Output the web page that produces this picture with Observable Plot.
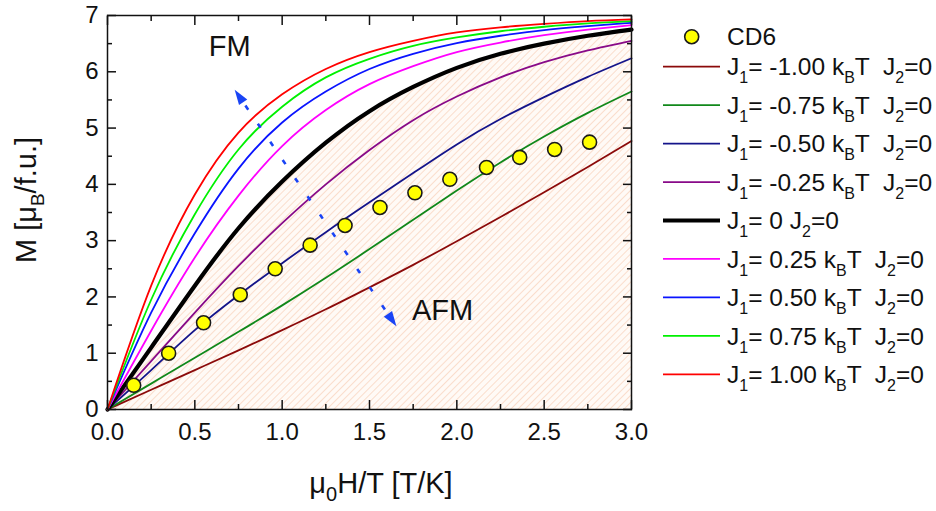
<!DOCTYPE html>
<html><head><meta charset="utf-8">
<script src="https://cdn.jsdelivr.net/npm/d3@7"></script>
<script src="https://cdn.jsdelivr.net/npm/@observablehq/plot@0.6"></script>
<style>
html,body{margin:0;padding:0;background:#fff;}
#chart{width:936px;height:511px;overflow:hidden;}
</style></head><body><div id="chart"></div>
<script>
// ---- data ----
const xGrid = [0, 0.25, 0.5, 0.75, 1, 1.25, 1.5, 1.75, 2, 2.25, 2.5, 2.75, 3];
const J1Values = [-1, -0.75, -0.5, -0.25, 0, 0.25, 0.5, 0.75, 1];
const M_Jm100 = [0, 0.35, 0.70, 1.05, 1.41, 1.78, 2.17, 2.57, 2.99, 3.42, 3.86, 4.31, 4.77];
const M_Jm075 = [0, 0.46, 0.92, 1.38, 1.85, 2.34, 2.85, 3.37, 3.89, 4.39, 4.85, 5.27, 5.65];
const M_Jm050 = [0, 0.70, 1.41, 2.03, 2.60, 3.15, 3.68, 4.20, 4.71, 5.16, 5.55, 5.91, 6.24];
const M_Jm025 = [0, 0.86, 1.72, 2.55, 3.31, 4.00, 4.61, 5.14, 5.56, 5.90, 6.17, 6.38, 6.55];
const M_J000  = [0, 1.10, 2.20, 3.22, 4.05, 4.74, 5.30, 5.73, 6.07, 6.32, 6.50, 6.64, 6.75];
const M_Jp025 = [0, 1.40, 2.70, 3.80, 4.68, 5.32, 5.78, 6.10, 6.35, 6.52, 6.65, 6.75, 6.83];
const M_Jp050 = [0, 1.72, 3.13, 4.28, 5.10, 5.65, 6.05, 6.32, 6.51, 6.64, 6.74, 6.81, 6.87];
const M_Jp075 = [0, 1.95, 3.47, 4.62, 5.38, 5.90, 6.23, 6.46, 6.61, 6.72, 6.80, 6.86, 6.90];
const M_Jp100 = [0, 2.20, 3.82, 4.92, 5.60, 6.05, 6.35, 6.55, 6.70, 6.79, 6.85, 6.90, 6.93];
const cd6X = [0.15, 0.35, 0.55, 0.76, 0.96, 1.16, 1.36, 1.56, 1.76, 1.96, 2.17, 2.36, 2.56, 2.76];
const cd6M = [0.43, 1.00, 1.54, 2.04, 2.50, 2.92, 3.27, 3.59, 3.85, 4.09, 4.30, 4.48, 4.62, 4.75];
const xMajorTicks = [0, 0.5, 1, 1.5, 2, 2.5, 3];
const xMinorTicks = [0.25, 0.75, 1.25, 1.75, 2.25, 2.75];
const yMajorTicks = [0, 1, 2, 3, 4, 5, 6, 7];
const yMinorTicks = [0.5, 1.5, 2.5, 3.5, 4.5, 5.5, 6.5];

// ---- styles ----
const seriesValues = [M_Jm100, M_Jm075, M_Jm050, M_Jm025, M_J000, M_Jp025, M_Jp050, M_Jp075, M_Jp100];
const seriesColors = ["#8b0a0a", "#11881a", "#14148a", "#880a88", "#000000", "#ff00ff", "#0a14ff", "#00f000", "#ff0000"];
const seriesWidths = [1.8, 1.8, 1.8, 1.8, 4.2, 1.8, 1.8, 1.8, 1.8];
const font = "'Liberation Sans', Arial, Helvetica, sans-serif";

const series = J1Values.map((j, k) => ({
  j, color: seriesColors[k], width: seriesWidths[k],
  rows: xGrid.map((x, i) => ({x, m: seriesValues[k][i]}))
}));
const cd6Rows = cd6X.map((x, i) => ({x, m: cd6M[i]}));
const blackRows = series[4].rows;

const tickStyle = {stroke: "#111", strokeWidth: 1.5, tickFormat: () => "", label: null};

const chart = Plot.plot({
  width: 936, height: 511,
  marginLeft: 107, marginRight: 305, marginTop: 15, marginBottom: 102,
  style: {fontFamily: font, fontSize: "24px", color: "#111", background: "white", overflow: "visible"},
  x: {domain: [0, 3]},
  y: {domain: [0, 7]},
  marks: [
    Plot.areaY(blackRows, {x: "x", y: "m", fill: "url(#hatch)", curve: "natural"}),
    ...series.map(s => Plot.line(s.rows, {x: "x", y: "m", stroke: s.color, strokeWidth: s.width, curve: "natural"})),
    Plot.dot(cd6Rows, {x: "x", y: "m", r: 7, fill: "#ffff00", stroke: "#1a1a1a", strokeWidth: 1.6}),
    Plot.text([{x: 0.70, y: 6.445, t: "FM"}], {x: "x", y: "y", text: "t", fontSize: 29, fill: "#111", lineAnchor: "middle"}),
    Plot.text([{x: 1.743, y: 1.755, t: "AFM"}], {x: "x", y: "y", text: "t", fontSize: 29, fill: "#111", textAnchor: "start", lineAnchor: "middle"}),
    Plot.frame({stroke: "#111", strokeWidth: 1.5}),
    Plot.axisX(xMajorTicks, {anchor: "bottom", tickSize: -9, ...tickStyle}),
    Plot.axisX(xMinorTicks, {anchor: "bottom", tickSize: -5, ...tickStyle}),
    Plot.axisX(xMajorTicks, {anchor: "top", tickSize: -9, ...tickStyle}),
    Plot.axisX(xMinorTicks, {anchor: "top", tickSize: -5, ...tickStyle}),
    Plot.axisY(yMajorTicks, {anchor: "left", tickSize: -9, ...tickStyle}),
    Plot.axisY(yMinorTicks, {anchor: "left", tickSize: -5, ...tickStyle}),
    Plot.axisY(yMajorTicks, {anchor: "right", tickSize: -9, ...tickStyle}),
    Plot.axisY(yMinorTicks, {anchor: "right", tickSize: -5, ...tickStyle}),
    Plot.axisX(xMajorTicks, {anchor: "bottom", tickSize: 0, tickPadding: 13, tickFormat: d3.format(".1f"), label: null, fontSize: 24, fill: "#111"}),
    Plot.axisY(yMajorTicks, {anchor: "left", tickSize: 0, tickPadding: 9, tickFormat: d3.format("d"), label: null, fontSize: 24, fill: "#111"})
  ]
});
document.getElementById("chart").appendChild(chart);

const svg = d3.select(chart);
// hatch pattern
const defs = svg.insert("defs", ":first-child");
const pat = defs.append("pattern").attr("id", "hatch").attr("patternUnits", "userSpaceOnUse")
  .attr("width", 5).attr("height", 5).attr("patternTransform", "rotate(45)");
pat.append("rect").attr("width", 5).attr("height", 5).attr("fill", "#fffaf6");
pat.append("line").attr("x1", 0).attr("y1", 0).attr("x2", 0).attr("y2", 5)
  .attr("stroke", "#f8cdb5").attr("stroke-width", 1.3);

// dashed double arrow FM <-> AFM (anchored in data coordinates)
const sx = chart.scale("x"), sy = chart.scale("y");
const arrowTop = [0.731, 5.67], arrowBottom = [1.657, 1.47];
const p0 = [sx.apply(arrowTop[0]), sy.apply(arrowTop[1])];
const p1 = [sx.apply(arrowBottom[0]), sy.apply(arrowBottom[1])];
const L = Math.hypot(p1[0] - p0[0], p1[1] - p0[1]);
const ux = (p1[0] - p0[0]) / L, uy = (p1[1] - p0[1]) / L;
const headLen = 15, headW = 5;
const arrowColor = "#1a44f5";
function headPath(tip, dx, dy) {
  const bx = tip[0] - dx * headLen, by = tip[1] - dy * headLen;
  return `M${tip[0]},${tip[1]}L${bx - dy * headW},${by + dx * headW}L${bx + dy * headW},${by - dx * headW}Z`;
}
const ag = svg.append("g");
ag.append("line")
  .attr("x1", p0[0] + ux * (headLen + 4)).attr("y1", p0[1] + uy * (headLen + 4))
  .attr("x2", p1[0] - ux * (headLen + 2)).attr("y2", p1[1] - uy * (headLen + 2))
  .attr("stroke", arrowColor).attr("stroke-width", 2.6).attr("stroke-dasharray", "5,17");
ag.append("path").attr("d", headPath(p0, -ux, -uy)).attr("fill", arrowColor);
ag.append("path").attr("d", headPath(p1, ux, uy)).attr("fill", arrowColor);

// texts with subscripts
function addSubText(g, parts, mainSize, subSize, shift, anchor) {
  const t = g.append("text").attr("font-family", font).attr("font-size", mainSize).attr("fill", "#111")
    .attr("text-anchor", anchor).attr("xml:space", "preserve").style("white-space", "pre");
  let down = false;
  parts.forEach(([str, sub]) => {
    const ts = t.append("tspan").text(str);
    if (sub && !down) { ts.attr("dy", shift).attr("font-size", subSize); down = true; }
    else if (!sub && down) { ts.attr("dy", -shift); down = false; }
    else if (sub) ts.attr("font-size", subSize);
  });
  return t;
}
addSubText(svg.append("g").attr("transform", "translate(36,200) rotate(-90)"),
  [["M [\u03bc"], ["B", true], ["/f.u.]"]], 29, 19, 8, "middle");
addSubText(svg.append("g").attr("transform", "translate(381,493)"),
  [["\u03bc"], ["0", true], ["H/T [T/K]"]], 29, 20, 8, "middle");

// legend
const lg = svg.append("g");
lg.append("circle").attr("cx", 691.7).attr("cy", 36.7).attr("r", 7)
  .attr("fill", "#ffff00").attr("stroke", "#1a1a1a").attr("stroke-width", 1.6);
addSubText(lg.append("g").attr("transform", `translate(727,${36.7 + 8.7})`), [["CD6"]], 24.5, 16, 8, "start");
series.forEach((s, i) => {
  const y = 66.7 + 38.45 * i;
  lg.append("line").attr("x1", 663).attr("x2", 720).attr("y1", y).attr("y2", y)
    .attr("stroke", s.color).attr("stroke-width", s.width);
  const num = (s.j < 0 ? "-" : "") + Math.abs(s.j).toFixed(2);
  const parts = s.j === 0
    ? [["J"], ["1", true], ["= 0 J"], ["2", true], ["=0"]]
    : [["J"], ["1", true], [`= ${num} k`], ["B", true], ["T  J"], ["2", true], ["=0"]];
  addSubText(lg.append("g").attr("transform", `translate(727,${y + 8.7})`), parts, 24.5, 16, 8, "start");
});
</script>
</body></html>
